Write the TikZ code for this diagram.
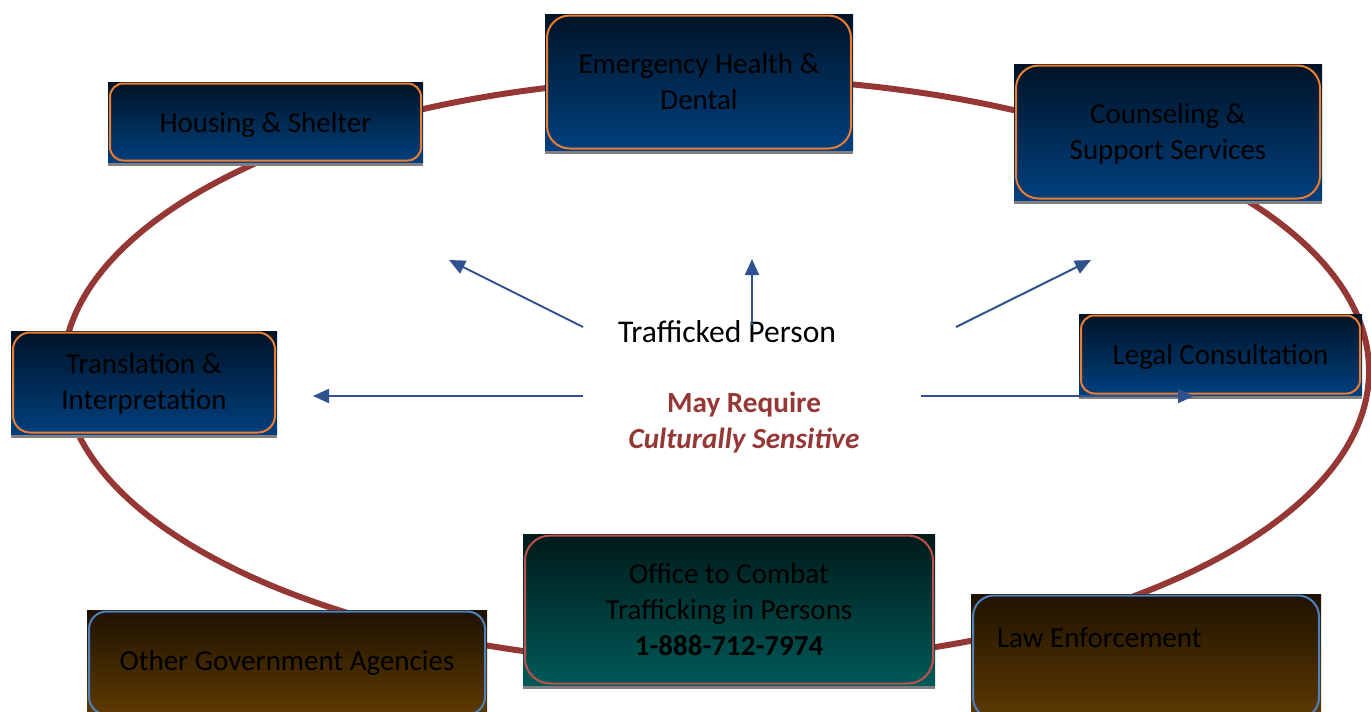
\documentclass[tikz,border=0pt]{standalone}
\usepackage{fontspec}
\setmainfont{Carlito}
\usetikzlibrary{arrows.meta}
\definecolor{ringred}{RGB}{149,55,53}
\definecolor{arrowblue}{RGB}{47,82,143}
\definecolor{navytop}{RGB}{0,19,38}
\definecolor{navybot}{RGB}{0,64,126}
\definecolor{greentop}{RGB}{0,26,26}
\definecolor{greenbot}{RGB}{0,90,88}
\definecolor{browntop}{RGB}{30,18,0}
\definecolor{brownbot}{RGB}{94,58,0}
\definecolor{orangeb}{RGB}{237,125,49}
\definecolor{redb}{RGB}{192,80,77}
\definecolor{blueb}{RGB}{79,129,189}
\definecolor{shadowc}{RGB}{128,128,128}
\tikzset{
  navybox/.style={top color=navytop,bottom color=navybot,draw=none},
  greenbox/.style={top color=greentop,bottom color=greenbot,draw=none},
  brownbox/.style={top color=browntop,bottom color=brownbot,draw=none},
  navyborder/.style={draw=orangeb,line width=1pt},
  greenborder/.style={draw=redb,line width=1pt},
  brownborder/.style={draw=blueb,line width=1pt},
  boxtext/.style={font=\fontsize{14.5}{18}\selectfont,text=black,align=center,inner sep=0pt,outer sep=0pt},
  conn/.style={draw=arrowblue,line width=1pt,-{Triangle[length=8pt,width=7pt]}},
}
% name, x1, y1, x2, y2, kind, text-shift (px), text
\newcommand\mybox[8]{%
  \fill[shadowc] (#2,#5) rectangle (#4,#5+4);
  \pgfmathsetmacro\myrr{0.1667*min(#4-#2,#5-#3)*0.5}
  \shade[#6box] (#2,#3) rectangle (#4,#5);
  \draw[#6border,rounded corners=\myrr pt] (#2+2,#3+1.5) rectangle (#4-2,#5-1.5);
  \node[boxtext] (#1) at ({(#2+#4)/2},{(#3+#5)/2+#7}) {#8};
}
\begin{document}
\begin{tikzpicture}[x=0.5pt,y=-0.5pt]
\useasboundingbox (0,0) rectangle (1371,712);
\fill[white] (0,0) rectangle (1371,712);
% ring
\draw[ringred,line width=3pt] (716,371) ellipse [x radius=326.5pt,y radius=146.5pt];
% boxes
\mybox{housing}{108}{82}{423}{162}{navy}{3}{Housing \& Shelter}
\mybox{health}{545}{14}{853}{150}{navy}{0}{Emergency Health \&\\Dental}
\mybox{counsel}{1014}{64}{1322}{200}{navy}{2}{Counseling \&\\Support Services}
\mybox{transl}{11}{331}{277}{434}{navy}{1.5}{Translation \&\\Interpretation}
\mybox{legal}{1079}{314}{1362}{395}{navy}{2.5}{Legal Consultation}
\mybox{office}{523}{534}{935}{685}{green}{0}{Office to Combat\\Trafficking in Persons\\\textbf{1-888-712-7974}}
\mybox{othergov}{87}{610}{487}{716}{brown}{0}{Other Government Agencies}
\mybox{law}{971}{594}{1321}{720}{brown}{0}{}
\node[boxtext,anchor=west] (lawtxt) at (997,638) {Law Enforcement};
% centre texts
\node[font=\fontsize{15.8}{18}\selectfont,inner sep=0pt] (person) at (727,332) {Trafficked Person};
\node[font=\fontsize{14.6}{18}\selectfont\bfseries,text=ringred,align=center,inner sep=0pt] (require) at (744,423) {May Require\\\itshape Culturally Sensitive};
% arrows
\coordinate (a1s) at (583,327); \coordinate (a1e) at (449,260);
\coordinate (a2s) at (752,325); \coordinate (a2e) at (752,259);
\coordinate (a3s) at (956,327); \coordinate (a3e) at (1091,260);
\coordinate (a4s) at (583,396); \coordinate (a4e) at (313,396);
\coordinate (a5s) at (921,396); \coordinate (a5e) at (1194,396);
\draw[conn] (a1s) -- (a1e);
\draw[conn] (a2s) -- (a2e);
\draw[conn] (a3s) -- (a3e);
\draw[conn] (a4s) -- (a4e);
\draw[conn] (a5s) -- (a5e);
\end{tikzpicture}
\end{document}
